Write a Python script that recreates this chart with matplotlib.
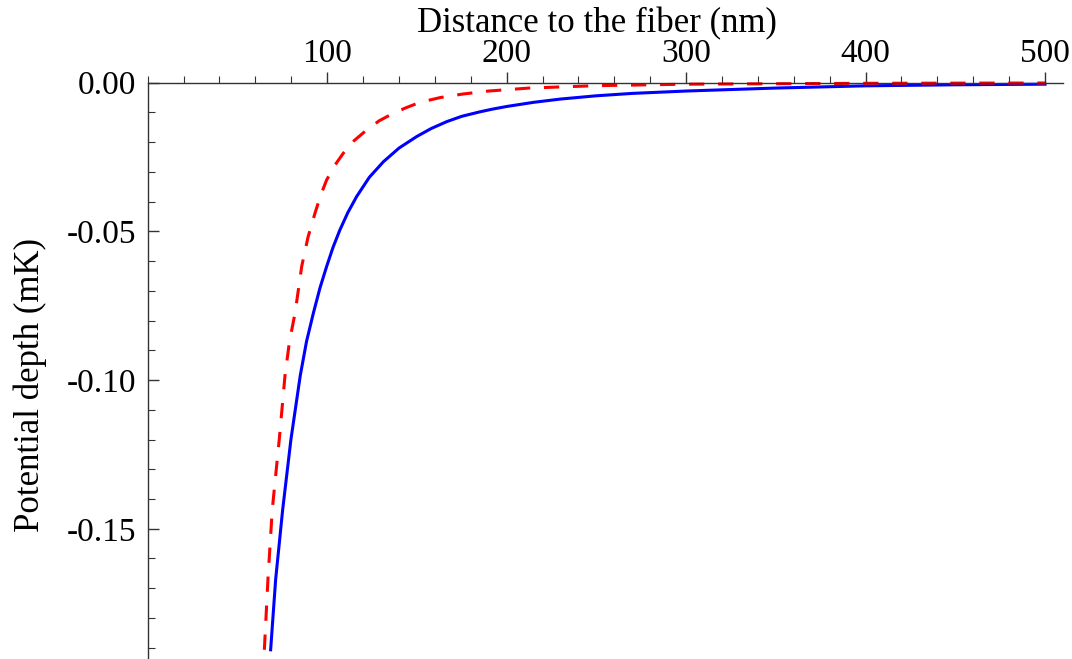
import matplotlib
matplotlib.use('Agg')
import matplotlib.pyplot as plt
from matplotlib.ticker import MultipleLocator

plt.rcParams['font.family'] = ['Liberation Serif', 'DejaVu Serif']
plt.rcParams['axes.unicode_minus'] = False

# distance (nm) and potential (mK)
solid_x = [68.5, 71.3, 75.2, 79.8, 85.0, 88.5, 92.3, 96.0, 99.7, 103.3, 107.1,
           111.5, 116.4, 123.5, 131.3, 140, 149.9, 158, 166.6, 175, 185.1, 192,
           200, 215, 230, 250, 270, 300, 350, 400, 450, 500]
solid_y = [-0.1907, -0.167, -0.1436, -0.120, -0.0985, -0.087, -0.0775, -0.069,
           -0.0618, -0.0553, -0.0495, -0.0437, -0.0383, -0.0318, -0.0266, -0.0220,
           -0.0181, -0.0154, -0.0131, -0.0113, -0.0098, -0.0089, -0.0080, -0.0066,
           -0.0055, -0.0044, -0.0036, -0.0028, -0.0018, -0.00105, -0.0007, -0.0005]

dashed_x = [65.0, 67.0, 69.4, 73.3, 76.5, 79.0, 82.1, 85.8, 89.3, 93.2, 96.3,
            99.7, 104, 109, 115, 122, 129, 136.8, 144, 151.7, 163, 175.7, 190,
            212.5, 250, 300, 400, 500]
dashed_y = [-0.1907, -0.167, -0.1436, -0.120, -0.0985, -0.087, -0.0775, -0.0618,
            -0.052, -0.0439, -0.0380, -0.0327, -0.0280, -0.0237, -0.0195, -0.0159,
            -0.0128, -0.0103, -0.0084, -0.0066, -0.0050, -0.0038, -0.0028, -0.0018,
            -0.0010, -0.0005, -0.0002, -0.0001]

x_ticks = [100, 200, 300, 400, 500]
x_tick_labels = ['100', '200', '300', '400', '500']
y_ticks = [0.0, -0.05, -0.10, -0.15]
y_tick_labels = ['0.00', '-0.05', '-0.10', '-0.15']

fig = plt.figure(figsize=(10.72, 6.59), dpi=100)
ax = fig.add_axes([147.7 / 1072, 0.0, 915.3 / 1072, 1 - 82.7 / 659])

ax.plot(solid_x, solid_y, color='blue', lw=2.2, clip_on=False)
ax.plot(dashed_x, dashed_y, color='red', lw=2.2, dashes=(5, 4.5), clip_on=False)

ax.set_xlim(0, 510)
ax.set_ylim(-0.1938, 0.0)

ax.spines['bottom'].set_visible(False)
ax.spines['right'].set_visible(False)
for s in ('top', 'left'):
    ax.spines[s].set_linewidth(1.0)
    ax.spines[s].set_color('#333333')

ax.xaxis.tick_top()
ax.set_xticks(x_ticks)
ax.set_xticklabels(x_tick_labels)
ax.xaxis.set_minor_locator(MultipleLocator(20))
ax.tick_params(axis='x', which='major', direction='out', length=8, width=1,
               color='#333333', pad=2, labelsize=24)
ax.tick_params(axis='x', which='minor', direction='out', length=5, width=0.8,
               color='#333333')

ax.set_yticks(y_ticks)
ax.set_yticklabels(y_tick_labels)
ax.yaxis.set_minor_locator(MultipleLocator(0.01))
ax.tick_params(axis='y', which='major', direction='in', length=8, width=1,
               color='#333333', pad=8, labelsize=24)
ax.tick_params(axis='y', which='minor', direction='in', length=5, width=0.8,
               color='#333333')

ax.xaxis.set_label_position('top')
ax.set_xlabel('Distance to the fiber (nm)', fontsize=25)
ax.xaxis.set_label_coords(0.491, 1.087)
ax.set_ylabel('Potential depth (mK)', fontsize=25)
ax.yaxis.set_label_coords(-0.110, 0.4755)

fig.savefig('out.png', dpi=100)
